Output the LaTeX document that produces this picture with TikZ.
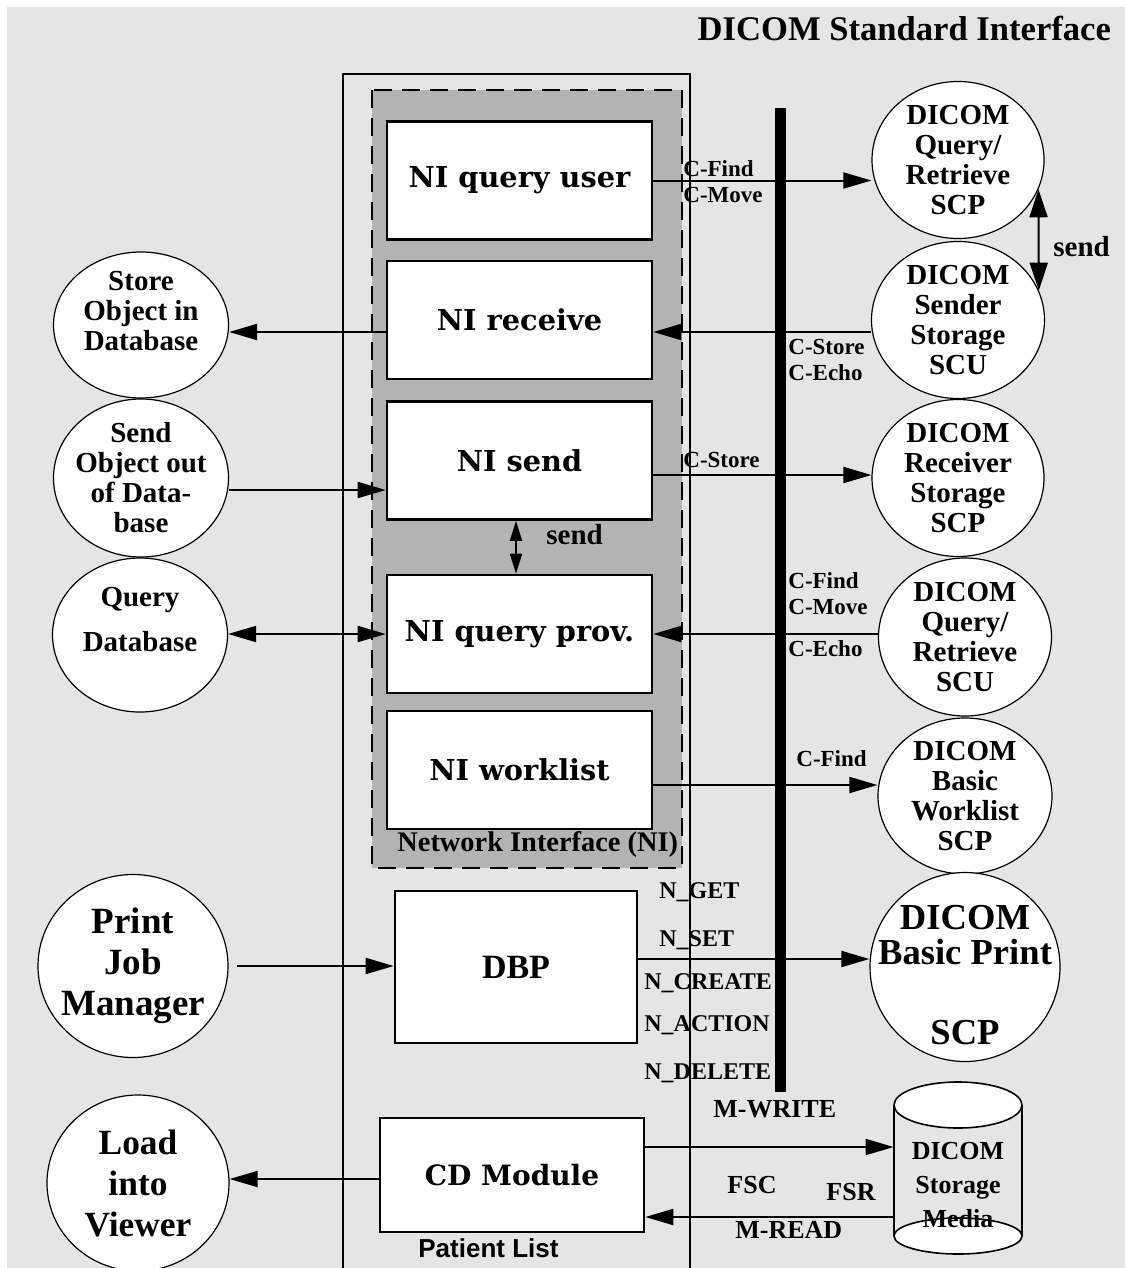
\documentclass[tikz,border=0pt]{standalone}
\usepackage{fontspec}
\setmainfont{Liberation Serif}
\setsansfont{Liberation Sans}
\newfontfamily\schoolfont{DejaVu Serif}
\usetikzlibrary{shapes.geometric, positioning, arrows.meta}
\definecolor{PanelGray}{RGB}{229,229,229}
\definecolor{NIGray}{RGB}{179,179,179}

\begin{document}
\begin{tikzpicture}[x=0.5pt, y=-0.5pt,
    bubble/.style={ellipse, draw, fill=white, line width=0.6pt, inner sep=0pt},
    bubtxt/.style={align=center, inner sep=0pt, font=\bfseries\fontsize{14.5pt}{15pt}\selectfont},
    nibox/.style={rectangle, draw, fill=white, line width=1.3pt, minimum width=132.5pt, minimum height=59pt, font=\schoolfont\bfseries\fontsize{14.4pt}{16pt}\selectfont},
    wire/.style={line width=1pt, -{Triangle[length=14pt, width=8pt]}},
    twowire/.style={line width=1pt, {Triangle[length=14pt, width=8pt]}-{Triangle[length=14pt, width=8pt]}},
    msg/.style={anchor=west, align=left, inner sep=0pt, font=\bfseries\fontsize{11.5pt}{13pt}\selectfont},
    nmsg/.style={anchor=west, inner sep=0pt, font=\bfseries\fontsize{12pt}{14pt}\selectfont},
    mmsg/.style={anchor=west, inner sep=0pt, font=\bfseries\fontsize{13pt}{15pt}\selectfont},
    sendlbl/.style={anchor=west, inner sep=0pt, font=\bfseries\fontsize{14.5pt}{16pt}\selectfont},
  ]
    % page and panel
    \fill[white] (0,0) rectangle (1125,1268);
    \fill[PanelGray] (7,7) rectangle (1125,1268);
    \useasboundingbox (0,0) rectangle (1125,1268);

    \node[anchor=east, font=\bfseries\fontsize{17.3pt}{20pt}\selectfont] (title) at (1118,28) {DICOM Standard Interface};

    % patient list frame
    \draw[line width=1pt] (343,1268) -- (343,74) -- (690,74) -- (690,1268);
    \node[anchor=west, inner sep=0pt, font=\sffamily\bfseries\fontsize{13pt}{15pt}\selectfont] (plist) at (418,1248) {Patient List};

    % network interface
    \draw[line width=1pt, dash pattern=on 9pt off 5pt, fill=NIGray] (372,90) rectangle (682,868);
    \node[anchor=west, inner sep=0pt, font=\bfseries\fontsize{14.2pt}{16pt}\selectfont] (nilabel) at (397,845) {Network Interface (NI)};

    % bus
    \draw[line width=5.5pt] (780,108) -- (780,1092);

    % modules
    \node[nibox] (quser) at (519.5,180.5) {NI query user};
    \node[nibox] (nirecv) at (519.5,320) {NI receive};
    \node[nibox] (nisend) at (519.5,460.5) {NI send};
    \node[nibox] (nqprov) at (519.5,634) {NI query prov.};
    \node[nibox] (niwork) at (519.5,770) {NI worklist};
    \node[nibox, minimum width=121pt, minimum height=76pt, font=\bfseries\fontsize{17pt}{20pt}\selectfont] (dbp) at (516,967) {DBP};
    \node[nibox, minimum width=132pt, minimum height=57pt, font=\schoolfont\bfseries\fontsize{14pt}{16pt}\selectfont] (cdmod) at (512,1175) {CD Module};

    % local side
    \node[bubble, minimum width=87.5pt, minimum height=73pt] (store) at (141,325) {};
    \node[bubtxt] at ([yshift=7pt]store.center) {Store\\Object in\\Database};
    \node[bubble, minimum width=87.5pt, minimum height=79pt] (sendobj) at (141,478) {};
    \node[bubtxt] at (sendobj.center) {Send\\Object out\\of Data-\\base};
    \node[bubble, minimum width=87.5pt, minimum height=77pt] (querydb) at (140,635) {};
    \node[bubtxt] at ([yshift=7.5pt]querydb.center) {Query\\[7.5pt]Database};
    \node[bubble, minimum width=95pt, minimum height=91.5pt] (pjm) at (133,966) {};
    \node[bubtxt, font=\bfseries\fontsize{18.5pt}{20.5pt}\selectfont] at (pjm.center) {Print\\Job\\Manager};
    \node[bubble, minimum width=91pt, minimum height=88pt] (viewer) at (138,1183) {};
    \node[bubtxt, font=\bfseries\fontsize{17.7pt}{20.5pt}\selectfont] at (viewer.center) {Load\\into\\Viewer};

    % DICOM side
    \node[bubble, minimum width=86pt, minimum height=78.5pt] (qrscp) at (958,160) {};
    \node[bubtxt] at (qrscp.center) {DICOM\\Query/\\Retrieve\\SCP};
    \node[bubble, minimum width=86.5pt, minimum height=78.5pt] (sndscu) at (958,320) {};
    \node[bubtxt] at (sndscu.center) {DICOM\\Sender\\Storage\\SCU};
    \node[bubble, minimum width=86pt, minimum height=78.5pt] (rcvscp) at (958,478) {};
    \node[bubtxt] at (rcvscp.center) {DICOM\\Receiver\\Storage\\SCP};
    \node[bubble, minimum width=86.5pt, minimum height=79pt] (qrscu) at (965,637) {};
    \node[bubtxt] at (qrscu.center) {DICOM\\Query/\\Retrieve\\SCU};
    \node[bubble, minimum width=87pt, minimum height=78pt] (wlscp) at (965,796) {};
    \node[bubtxt] at (wlscp.center) {DICOM\\Basic\\Worklist\\SCP};
    \node[bubble, minimum width=95pt, minimum height=94.5pt] (prscp) at (965,967) {};
    \node[bubtxt, font=\bfseries\fontsize{18.3pt}{17.5pt}\selectfont] at ([yshift=-4pt]prscp.center) {DICOM\\Basic Print\\[22.5pt]SCP};

    % storage media
    \draw[line width=0.8pt] (894,1105) -- (894,1236) (1022,1105) -- (1022,1236);
    \draw[line width=0.8pt, fill=white] (958,1105) ellipse [x radius=32pt, y radius=11.5pt];
    \draw[line width=0.8pt, fill=white] (958,1236) ellipse [x radius=32pt, y radius=9pt];
    \node[minimum width=64pt, minimum height=66pt, inner sep=0pt, align=center, font=\bfseries\fontsize{13pt}{17pt}\selectfont] (media) at (958,1185) {DICOM\\Storage\\Media};

    % DIMSE services
    \draw[wire] (quser.east) -- (quser.east -| qrscp.west);
    \draw[wire] ([yshift=-6pt]nirecv.east -| sndscu.west) -- ([yshift=-6pt]nirecv.east);
    \draw[wire] ([yshift=-6pt]nirecv.west) -- ([yshift=-6pt]nirecv.west -| store.east);
    \draw[wire] ([yshift=-14.75pt]nisend.west -| sendobj.east) -- ([yshift=-14.75pt]nisend.west);
    \draw[wire] ([yshift=-7.25pt]nisend.east) -- ([yshift=-7.25pt]nisend.east -| rcvscp.west);
    \draw[line width=1pt, {Triangle[length=10pt, width=6pt]}-{Triangle[length=10pt, width=6pt]}] ([xshift=-1.75pt]nisend.south) -- ([xshift=-1.75pt]nqprov.north);
    \draw[twowire] (nqprov.west -| querydb.east) -- (nqprov.west);
    \draw[wire] (nqprov.east -| qrscu.west) -- (nqprov.east);
    \draw[wire] ([yshift=-7.5pt]niwork.east) -- ([yshift=-7.5pt]niwork.east -| wlscp.west);
    \draw[line width=1pt, {Triangle[length=14pt, width=9pt]}-{Triangle[length=14pt, width=9pt]}] (qrscp.-20) -- (sndscu.20);
    \draw[wire] ([xshift=4pt]pjm.east) -- (pjm.east -| dbp.west);
    \draw[wire] ([yshift=4pt]dbp.east) -- ([yshift=4pt]dbp.east -| prscp.west);
    \draw[wire] ([yshift=-2pt]cdmod.west) -- ([yshift=-2pt]cdmod.west -| viewer.east);
    \draw[wire] ([yshift=14pt]cdmod.east) -- ([yshift=14pt]cdmod.east -| media.west);
    \draw[wire] ([yshift=-21pt]cdmod.east -| media.west) -- ([yshift=-21pt]cdmod.east);

    % service labels
    \node[msg] (lqu) at (683,182) {C-Find\\C-Move};
    \node[msg] (lrc) at (788,360) {C-Store\\C-Echo};
    \node[msg] (lsd) at (683,460) {C-Store};
    \node[msg] (lqp) at (788,615) {C-Find\\C-Move\\[8pt]C-Echo};
    \node[msg] (lwl) at (796,759) {C-Find};
    \node[sendlbl] (lsnd1) at (546,535) {send};
    \node[sendlbl] (lsnd2) at (1053,247) {send};
    \node[nmsg] (nget) at (659,892) {N\_GET};
    \node[nmsg] (nset) at (659,940) {N\_SET};
    \node[nmsg] (ncreate) at (644,983) {N\_CREATE};
    \node[nmsg] (naction) at (644,1025) {N\_ACTION};
    \node[nmsg] (ndelete) at (644,1073) {N\_DELETE};
    \node[mmsg] (mwrite) at (713,1109) {M-WRITE};
    \node[mmsg] (fsc) at (727,1185) {FSC};
    \node[mmsg] (fsr) at (826,1192) {FSR};
    \node[mmsg] (mread) at (735,1230) {M-READ};
\end{tikzpicture}
\end{document}
